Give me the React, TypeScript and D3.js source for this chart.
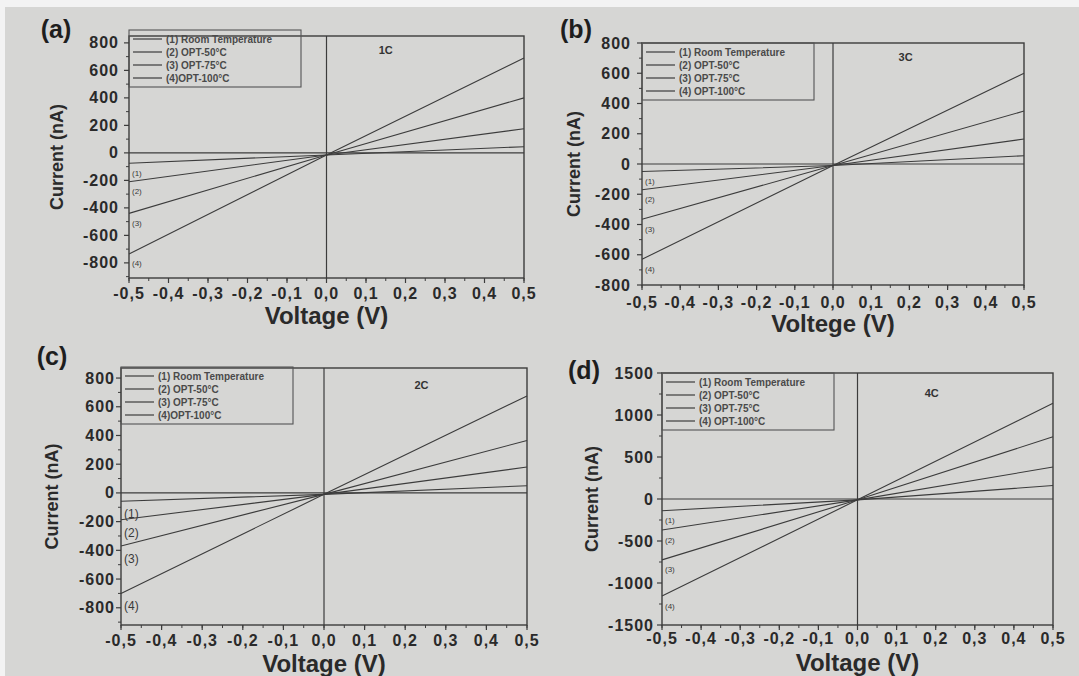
import React from "react";
import * as d3 from "d3";

// ---------- data ----------
const VOLTAGES = [-0.5, 0, 0.5];

// current (nA) at V = -0.5, 0, 0.5 for series (1)..(4)
const CURRENT_1C = [
  [-75, -15, 45],
  [-210, -15, 175],
  [-440, -15, 400],
  [-735, -15, 690],
];
const CURRENT_3C = [
  [-50, -10, 55],
  [-170, -10, 165],
  [-365, -10, 350],
  [-630, -10, 600],
];
const CURRENT_2C = [
  [-58, -10, 50],
  [-187, -10, 180],
  [-370, -10, 365],
  [-700, -10, 675],
];
const CURRENT_4C = [
  [-140, -10, 160],
  [-370, -10, 380],
  [-725, -10, 740],
  [-1155, -10, 1140],
];

const LEGEND_AC = ["(1) Room Temperature", "(2) OPT-50°C", "(3) OPT-75°C", "(4)OPT-100°C"];
const LEGEND_BD = ["(1) Room Temperature", "(2) OPT-50°C", "(3) OPT-75°C", "(4) OPT-100°C"];
const CURVE_TAGS = ["(1)", "(2)", "(3)", "(4)"];

const X_TICKS = [-0.5, -0.4, -0.3, -0.2, -0.1, 0, 0.1, 0.2, 0.3, 0.4, 0.5];
const Y_TICKS_800 = [-800, -600, -400, -200, 0, 200, 400, 600, 800];
const Y_TICKS_1500 = [-1500, -1000, -500, 0, 500, 1000, 1500];

// ---------- layout ----------
type PanelCfg = {
  tag: string;
  tagX: number;
  tagY: number;
  name: string;
  nameFx: number;
  nameDy: number;
  left: number;
  right: number;
  top: number;
  bottom: number;
  yDomain: [number, number];
  yTicks: number[];
  yMinor: number;
  data: number[][];
  legend: string[];
  legendTop: number;
  xTitle: string;
  xLabelY: number;
  xTitleY: number;
  yTitleX: number;
  yLabelRight: number;
  curveFont: number;
  curveDy: number;
};

const PANELS: PanelCfg[] = [
  {
    tag: "(a)", tagX: 56, tagY: 29, name: "1C", nameFx: 0.65, nameDy: 14,
    left: 129, right: 524, top: 36, bottom: 278,
    yDomain: [-910, 850], yTicks: Y_TICKS_800, yMinor: 100,
    data: CURRENT_1C, legend: LEGEND_AC, legendTop: 30,
    xTitle: "Voltage (V)", xLabelY: 293, xTitleY: 315, yTitleX: 57, yLabelRight: 119,
    curveFont: 8, curveDy: 10,
  },
  {
    tag: "(b)", tagX: 576, tagY: 29, name: "3C", nameFx: 0.69, nameDy: 14,
    left: 642, right: 1024, top: 43, bottom: 285,
    yDomain: [-800, 800], yTicks: Y_TICKS_800, yMinor: 100,
    data: CURRENT_3C, legend: LEGEND_BD, legendTop: 43,
    xTitle: "Voltege (V)", xLabelY: 302, xTitleY: 323, yTitleX: 574, yLabelRight: 631,
    curveFont: 8, curveDy: 10,
  },
  {
    tag: "(c)", tagX: 52, tagY: 356, name: "2C", nameFx: 0.74, nameDy: 17,
    left: 121, right: 527, top: 368, bottom: 625,
    yDomain: [-920, 870], yTicks: Y_TICKS_800, yMinor: 100,
    data: CURRENT_2C, legend: LEGEND_AC, legendTop: 367,
    xTitle: "Voltage (V)", xLabelY: 640, xTitleY: 663, yTitleX: 52, yLabelRight: 115,
    curveFont: 12, curveDy: 13,
  },
  {
    tag: "(d)", tagX: 584, tagY: 370, name: "4C", nameFx: 0.69, nameDy: 20,
    left: 662, right: 1053, top: 373, bottom: 625,
    yDomain: [-1500, 1500], yTicks: Y_TICKS_1500, yMinor: 250,
    data: CURRENT_4C, legend: LEGEND_BD, legendTop: 373,
    xTitle: "Voltage (V)", xLabelY: 638, xTitleY: 662, yTitleX: 592, yLabelRight: 654,
    curveFont: 8, curveDy: 10,
  },
];

const FONT = "'Liberation Sans', Arial, Helvetica, sans-serif";
const INK = "#2a2a2a";
const LINE = "#3c3c3c";

const fmtX = (v: number) => d3.format(".1f")(v).replace(".", ",").replace("−", "-");

function Panel({ p }: { p: PanelCfg }) {
  const x = d3.scaleLinear().domain([-0.5, 0.5]).range([p.left, p.right]);
  const y = d3.scaleLinear().domain(p.yDomain).range([p.bottom, p.top]);
  const line = d3
    .line<number>()
    .x((_, i) => x(VOLTAGES[i]))
    .y((d) => y(d));

  const xMinor = d3.range(-0.5, 0.5001, 0.05);
  const yMinor = d3
    .range(Math.ceil(p.yDomain[0] / p.yMinor) * p.yMinor, p.yDomain[1] + 1, p.yMinor)
    .filter((v) => !p.yTicks.includes(v));

  const legW = 172;
  const legH = 57;
  const rowH = 13;

  return (
    <g>
      {/* panel tag */}
      <text x={p.tagX} y={p.tagY} textAnchor="middle" dominantBaseline="central"
        fontSize={25} fontWeight="bold" fill="#1e1e1e" fontFamily={FONT}>
        {p.tag}
      </text>

      {/* axes lines at zero */}
      <line x1={x(0)} x2={x(0)} y1={p.top} y2={p.bottom} stroke={LINE} strokeWidth={1.2} />
      <line x1={p.left} x2={p.right} y1={y(0)} y2={y(0)} stroke={LINE} strokeWidth={1.1} />

      {/* curves */}
      {p.data.map((s, i) => (
        <path key={i} d={line(s) || ""} fill="none" stroke={LINE} strokeWidth={1.1} />
      ))}

      {/* curve tags */}
      {p.data.map((s, i) => (
        <text key={i} x={p.left + 3} y={y(s[0]) + p.curveDy} fontSize={p.curveFont}
          fontFamily={FONT} fill="#3a3a3a" dominantBaseline="central">
          {CURVE_TAGS[i]}
        </text>
      ))}

      {/* frame */}
      <rect x={p.left} y={p.top} width={p.right - p.left} height={p.bottom - p.top}
        fill="none" stroke={LINE} strokeWidth={1.4} />

      {/* legend */}
      <rect x={p.left} y={p.legendTop} width={legW} height={legH} fill="none"
        stroke="#555" strokeWidth={1.1} />
      {p.legend.map((t, i) => {
        const ry = p.legendTop + 9 + i * rowH;
        return (
          <g key={i}>
            <line x1={p.left + 4} x2={p.left + 33} y1={ry} y2={ry} stroke={LINE} strokeWidth={1.2} />
            <text x={p.left + 37} y={ry} dominantBaseline="central" fontSize={10}
              fontWeight="bold" fill="#4a4a4a" fontFamily={FONT}>
              {t}
            </text>
          </g>
        );
      })}

      {/* name tag */}
      <text x={p.left + p.nameFx * (p.right - p.left)} y={p.top + p.nameDy}
        textAnchor="middle" dominantBaseline="central" fontSize={11} fontWeight="bold"
        fill="#333" fontFamily={FONT}>
        {p.name}
      </text>

      {/* x ticks */}
      {xMinor.map((v, i) => (
        <line key={"xm" + i} x1={x(v)} x2={x(v)} y1={p.bottom} y2={p.bottom + 3}
          stroke={LINE} strokeWidth={1} />
      ))}
      {X_TICKS.map((v, i) => (
        <g key={"xt" + i}>
          <line x1={x(v)} x2={x(v)} y1={p.bottom} y2={p.bottom + 5} stroke={LINE} strokeWidth={1.2} />
          <text x={x(v)} y={p.xLabelY} textAnchor="middle" dominantBaseline="central"
            fontSize={16} fontWeight="bold" fill={INK} fontFamily={FONT} letterSpacing={1}>
            {fmtX(v)}
          </text>
        </g>
      ))}

      {/* y ticks */}
      {yMinor.map((v, i) => (
        <line key={"ym" + i} x1={p.left - 3} x2={p.left} y1={y(v)} y2={y(v)}
          stroke={LINE} strokeWidth={1} />
      ))}
      {p.yTicks.map((v, i) => (
        <g key={"yt" + i}>
          <line x1={p.left - 5} x2={p.left} y1={y(v)} y2={y(v)} stroke={LINE} strokeWidth={1.2} />
          <text x={p.yLabelRight} y={y(v)} textAnchor="end" dominantBaseline="central"
            fontSize={16} fontWeight="bold" fill={INK} fontFamily={FONT} letterSpacing={1}>
            {String(v)}
          </text>
        </g>
      ))}

      {/* axis titles */}
      <text x={(p.left + p.right) / 2} y={p.xTitleY} textAnchor="middle" dominantBaseline="central"
        fontSize={24} fontWeight="bold" fill={INK} fontFamily={FONT}>
        {p.xTitle}
      </text>
      <text transform={`translate(${p.yTitleX},${(p.top + p.bottom) / 2}) rotate(-90)`}
        textAnchor="middle" dominantBaseline="central" fontSize={18} fontWeight="bold"
        fill={INK} fontFamily={FONT}>
        Current (nA)
      </text>
    </g>
  );
}

export default function App() {
  return (
    <svg width={1079} height={676} viewBox="0 0 1079 676"
      style={{ position: "fixed", left: 0, top: 0, display: "block" }}>
      <rect x={0} y={0} width={1079} height={676} fill="#f3f3f3" />
      <rect x={5} y={7} width={1074} height={669} fill="#d6d6d4" />
      {PANELS.map((p) => (
        <Panel key={p.tag} p={p} />
      ))}
    </svg>
  );
}
